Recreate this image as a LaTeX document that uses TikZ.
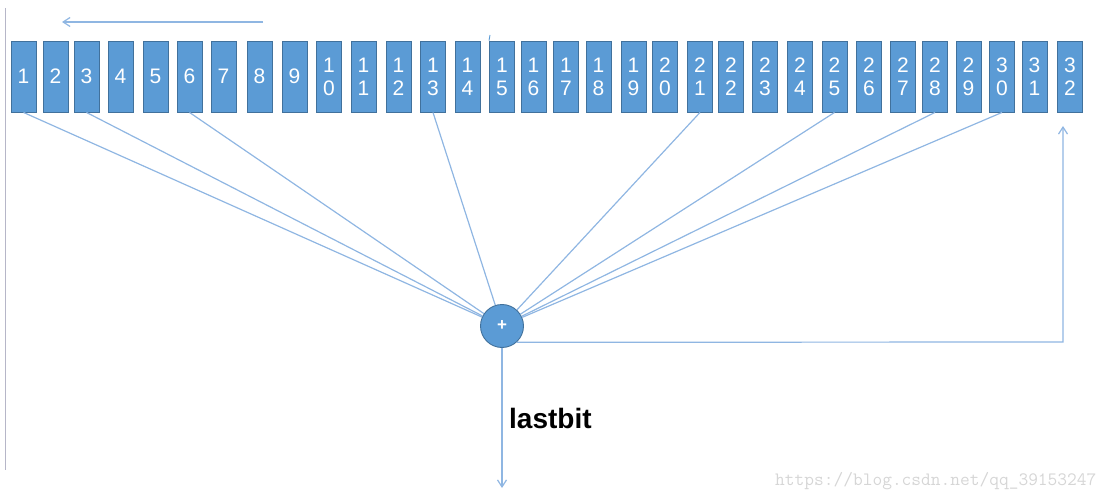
\documentclass[tikz,border=0pt]{standalone}
\usepackage{fontspec}
\setmainfont{Liberation Sans}
\usetikzlibrary{arrows.meta}
\definecolor{cellfill}{HTML}{5B9BD5}
\definecolor{celledge}{HTML}{41719C}
\definecolor{linkblue}{RGB}{143,182,226}
\definecolor{rulegray}{RGB}{182,182,200}
\definecolor{markgray}{RGB}{214,214,214}
\tikzset{
  cell/.style={rectangle, draw=celledge, fill=cellfill, line width=0.9pt,
    minimum width=25pt, minimum height=71pt, inner sep=0pt, text=white,
    align=center, font=\fontsize{21}{23}\selectfont},
  adder/.style={circle, draw=celledge, fill=cellfill, line width=0.9pt,
    minimum size=43pt, inner sep=0pt, text=white,
    font=\bfseries\fontsize{17}{17}\selectfont},
  link/.style={draw=linkblue, line width=1.2pt},
  flow/.style={link, -{Straight Barb[length=7pt,width=9pt]}},
}
\begin{document}
\begin{tikzpicture}[x=1pt, y=-1pt]
\useasboundingbox (0,0) rectangle (1104,492);

% left margin rule
\coordinate (ruletop) at (5.5,8);
\coordinate (rulebot) at (5.5,470);
\draw[rulegray, line width=1.1pt] (ruletop) -- (rulebot);

% register cells 1..32
\foreach \cx/\lab [count=\i] in {
  23.5/1, 55.5/2, 86.5/3, 120.5/4, 155.5/5, 189.5/6, 223.5/7, 259.5/8, 294.5/9,
  329/{1\\0}, 363.5/{1\\1}, 398.5/{1\\2}, 433/{1\\3}, 467.5/{1\\4}, 502/{1\\5},
  533.5/{1\\6}, 566/{1\\7}, 598.5/{1\\8}, 633.5/{1\\9}, 665/{2\\0}, 700/{2\\1},
  731/{2\\2}, 765/{2\\3}, 800/{2\\4}, 834.5/{2\\5}, 869/{2\\6}, 903/{2\\7},
  935/{2\\8}, 968.5/{2\\9}, 1002/{3\\0}, 1034.5/{3\\1}, 1070/{3\\2}}
  \node[cell] (b\i) at (\cx,76.5) {\lab};

% shift direction arrow
\coordinate (shiftstart) at (263,22);
\coordinate (shiftend) at (62,22);
\draw[flow] (shiftstart) -- (shiftend);

% small tick above cell 15
\coordinate (tick) at (490,35);
\draw[cellfill, line width=0.9pt] (tick) -- (b15.north west);

% XOR / adder node
\node[adder] (plus) at (502,326) {+};

% taps
\foreach \i in {1,3,6,13,21,25,28,30}
  \draw[link] (b\i.south) -- (plus);

% feedback into cell 32
\coordinate (fbcorner) at (1063,342);
\coordinate (fbend) at (1063,126);
\draw[flow] (plus.-48) -- (fbcorner) -- (fbend);

% output
\coordinate (outend) at (502,488);
\draw[flow] (plus.south) -- (outend);
\node[anchor=base west, inner sep=0pt, font=\bfseries\fontsize{28}{30}\selectfont]
  (lastbit) at (509,428) {lastbit};

% address line
\node[anchor=base west, inner sep=0pt, text=markgray,
  font=\ttfamily\fontsize{18.9}{20}\selectfont] (url) at (775,485)
  {https://blog.csdn.net/qq\_39153247};
\end{tikzpicture}
\end{document}
